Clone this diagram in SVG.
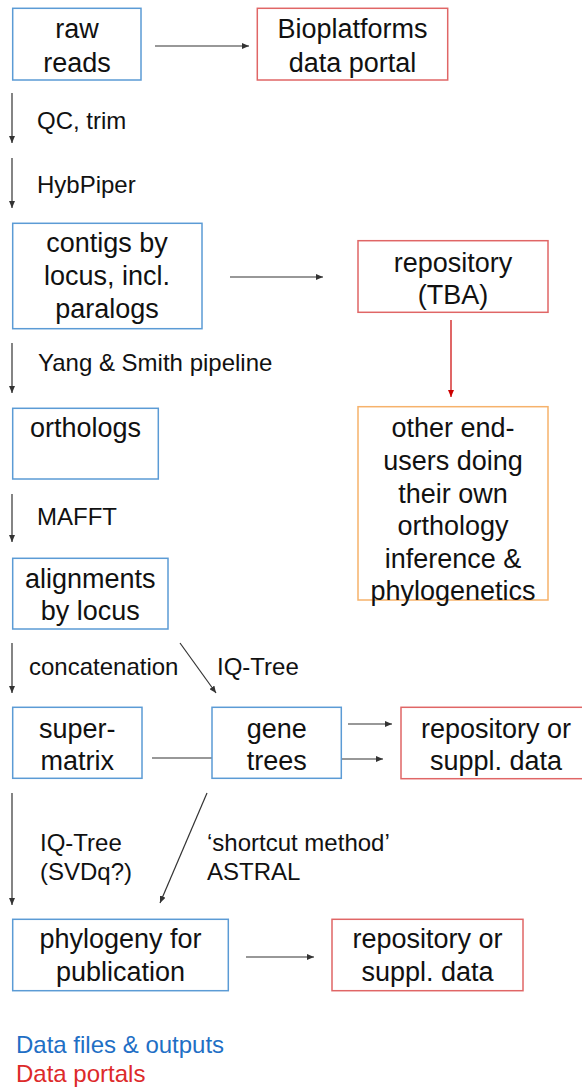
<svg xmlns="http://www.w3.org/2000/svg" width="582" height="1088" viewBox="0 0 582 1088">
<style>
text{font-family:"Liberation Sans",Arial,sans-serif;fill:#111}
.bt{font-size:27px;text-anchor:middle}
.lb{font-size:24px}
.blue{fill:none;stroke:#5b9bd5;stroke-width:1.5}
.red{fill:none;stroke:#e06666;stroke-width:1.5}
.orange{fill:none;stroke:#f6b26b;stroke-width:1.5}
.c{fill:none;stroke:#333;stroke-width:1.2}
.cr{fill:none;stroke:#cc0000;stroke-width:1.2}
</style>
<defs>
<marker id="ah" markerUnits="userSpaceOnUse" markerWidth="8" markerHeight="6" refX="7" refY="3" orient="auto"><path d="M0,0 L7,3 L0,6 z" fill="#333"/></marker>
<marker id="ahr" markerUnits="userSpaceOnUse" markerWidth="8" markerHeight="6" refX="7" refY="3" orient="auto"><path d="M0,0 L7,3 L0,6 z" fill="#cc0000"/></marker>
</defs>
<rect width="582" height="1088" fill="#fff"/>
<g id="connectors">
<line class="c" x1="155" y1="46" x2="249" y2="46" marker-end="url(#ah)"/>
<line class="c" x1="12" y1="93" x2="12" y2="143" marker-end="url(#ah)"/>
<line class="c" x1="12" y1="158" x2="12" y2="208" marker-end="url(#ah)"/>
<line class="c" x1="230" y1="277" x2="323" y2="277" marker-end="url(#ah)"/>
<line class="cr" x1="451" y1="320" x2="451" y2="397" marker-end="url(#ahr)"/>
<line class="c" x1="12" y1="343" x2="12" y2="393" marker-end="url(#ah)"/>
<line class="c" x1="12" y1="494" x2="12" y2="542" marker-end="url(#ah)"/>
<line class="c" x1="12" y1="643" x2="12" y2="693" marker-end="url(#ah)"/>
<line class="c" x1="180" y1="643" x2="216" y2="693" marker-end="url(#ah)"/>
<line class="c" x1="152" y1="758" x2="212" y2="758"/>
<line class="c" x1="348" y1="724" x2="392" y2="724" marker-end="url(#ah)"/>
<line class="c" x1="341" y1="759" x2="383" y2="759" marker-end="url(#ah)"/>
<line class="c" x1="12" y1="793" x2="12" y2="905" marker-end="url(#ah)"/>
<line class="c" x1="207" y1="793" x2="160" y2="903" marker-end="url(#ah)"/>
<line class="c" x1="246" y1="957" x2="314" y2="957" marker-end="url(#ah)"/>
</g>
<g id="labels">
<text class="lb" x="37" y="129">QC, trim</text>
<text class="lb" x="37" y="193">HybPiper</text>
<text class="lb" x="38" y="371">Yang &amp; Smith pipeline</text>
<text class="lb" x="37" y="525">MAFFT</text>
<text class="lb" x="29" y="675">concatenation</text>
<text class="lb" x="217" y="675">IQ-Tree</text>
<text class="lb" x="40" y="851">IQ-Tree</text>
<text class="lb" x="40" y="880">(SVDq?)</text>
<text class="lb" x="207" y="851">‘shortcut method’</text>
<text class="lb" x="207" y="880">ASTRAL</text>
</g>
<g id="raw-reads"><rect class="blue" x="12.7" y="8.3" width="128.3" height="71.7"/><text class="bt" x="77" y="38">raw</text><text class="bt" x="77" y="72">reads</text></g>
<g id="bioplatforms"><rect class="red" x="257.3" y="8.3" width="190.4" height="71.7"/><text class="bt" x="352.5" y="38">Bioplatforms</text><text class="bt" x="352.5" y="72">data portal</text></g>
<g id="contigs"><rect class="blue" x="12.7" y="223.3" width="189.3" height="105.4"/><text class="bt" x="107" y="252">contigs by</text><text class="bt" x="107" y="285">locus, incl.</text><text class="bt" x="107" y="318">paralogs</text></g>
<g id="repository-tba"><rect class="red" x="358" y="240.7" width="190" height="71.6"/><text class="bt" x="453" y="272">repository</text><text class="bt" x="453" y="304">(TBA)</text></g>
<g id="end-users"><rect class="orange" x="358" y="406.7" width="190" height="193.3"/><text class="bt" x="453" y="437">other end-</text><text class="bt" x="453" y="470">users doing</text><text class="bt" x="453" y="503">their own</text><text class="bt" x="453" y="535">orthology</text><text class="bt" x="453" y="568">inference &amp;</text><text class="bt" x="453" y="600">phylogenetics</text></g>
<g id="orthologs"><rect class="blue" x="12.7" y="408.3" width="145.6" height="70.7"/><text class="bt" x="85.5" y="437">orthologs</text></g>
<g id="alignments"><rect class="blue" x="12.7" y="558.3" width="155.3" height="70.7"/><text class="bt" x="90.3" y="588">alignments</text><text class="bt" x="90.3" y="620">by locus</text></g>
<g id="supermatrix"><rect class="blue" x="12.7" y="707.3" width="129.3" height="71"/><text class="bt" x="77.3" y="738">super-</text><text class="bt" x="77.3" y="770">matrix</text></g>
<g id="gene-trees"><rect class="blue" x="212" y="707.3" width="129.3" height="71"/><text class="bt" x="276.7" y="738">gene</text><text class="bt" x="276.7" y="770">trees</text></g>
<g id="repository-genetrees"><rect class="red" x="401" y="707.3" width="190" height="71.4"/><text class="bt" x="496" y="738">repository or</text><text class="bt" x="496" y="770">suppl. data</text></g>
<g id="phylogeny"><rect class="blue" x="12.7" y="919.3" width="215.6" height="71.4"/><text class="bt" x="120.5" y="948">phylogeny for</text><text class="bt" x="120.5" y="981">publication</text></g>
<g id="repository-phylogeny"><rect class="red" x="332" y="919.3" width="191" height="71.4"/><text class="bt" x="427.5" y="948">repository or</text><text class="bt" x="427.5" y="981">suppl. data</text></g>
<g id="legend">
<text class="lb" x="16" y="1053" style="fill:#1f6fc5">Data files &amp; outputs</text>
<text class="lb" x="16" y="1082" style="fill:#dd2a2a">Data portals</text>
</g>
</svg>
